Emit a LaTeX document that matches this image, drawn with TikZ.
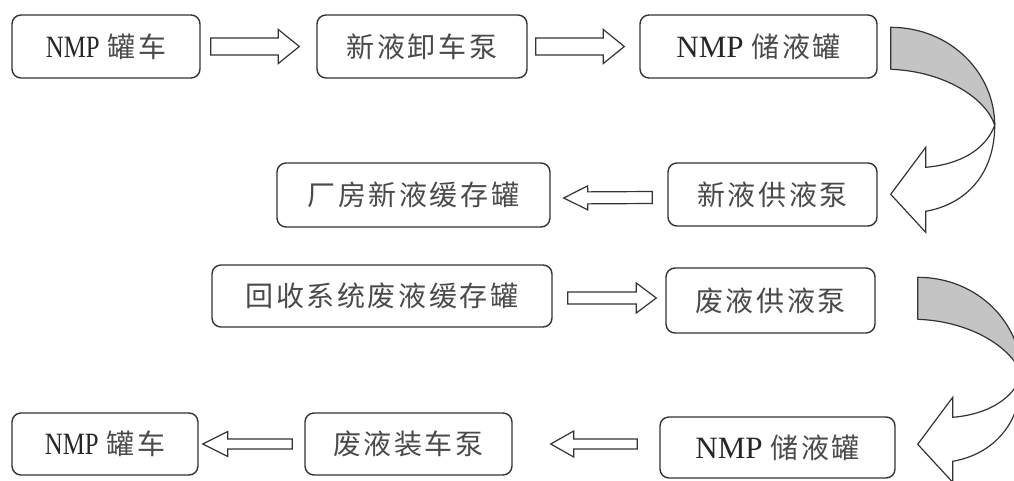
\documentclass[tikz,border=0pt]{standalone}
\usepackage{fontspec}
\setmainfont{Liberation Serif}
\newfontfamily\cjkf[LetterSpace=9]{Noto Sans CJK SC}
\newfontfamily\nmpnarrow[FakeStretch=0.8]{Liberation Serif}
\usetikzlibrary{calc}
\definecolor{linec}{HTML}{333333}
\definecolor{txtc}{HTML}{4A4A4A}
\definecolor{backgray}{HTML}{C4C4C4}
\newcommand\zhtxt[1]{{\cjkf\color{txtc}#1}}
\newcommand\nmpA{{\fontsize{31}{34}\nmpnarrow\color{black!85}NMP}\hspace{8pt}}
\newcommand\nmpC{{\fontsize{31}{34}\selectfont\color{black!85}NMP}\hspace{8pt}}
% #1 tail, #2 tip, #3 half shaft, #4 half head, #5 head length
\newcommand\blockarrow[5]{%
  \coordinate (hb) at ($(#2)!#5pt!(#1)$);
  \draw[barrow] ($(#1)!#3pt!90:(#2)$) -- ($(hb)!#3pt!90:(#2)$) -- ($(hb)!#4pt!90:(#2)$)
    -- (#2) -- ($(hb)!#4pt!-90:(#2)$) -- ($(hb)!#3pt!-90:(#2)$) -- ($(#1)!#3pt!-90:(#2)$) -- cycle;}
\tikzset{
  box/.style={draw=linec, line width=1.4pt, rounded corners=9pt, inner sep=0pt, fill=white,
    font=\fontsize{28}{32}\selectfont},
  barrow/.style={draw=linec, line width=1.2pt, fill=white, line join=miter},
  curlarrow/.pic={
    \draw[line width=1.2pt, draw=linec, fill=backgray, line join=round]
      (0,0) .. controls (60,0) and (104,46) .. (104,98)
      .. controls (96,72) and (55,44) .. (0,42) -- cycle;
    \draw[line width=1.2pt, draw=linec, fill=white, line join=miter]
      (104,98) .. controls (104,147) and (75,177) .. (35,184) -- (35,205) -- (0,167)
      -- (35,120) -- (35,140) .. controls (70,137) and (95,122) .. (104,98) -- cycle;
  }
}
\begin{document}
\begin{tikzpicture}[x=1pt, y=-1pt]
\useasboundingbox (0,0) rectangle (1014,480);
% boxes
\node[box, minimum width=188pt, minimum height=63pt] (A) at (106,46.5) {\nmpA\zhtxt{罐车}};
\node[box, minimum width=210pt, minimum height=63pt] (B) at (422,46.5) {\zhtxt{新液卸车泵}};
\node[box, minimum width=237pt, minimum height=63pt] (C) at (758.5,46.5) {\nmpC\zhtxt{储液罐}};
\node[box, minimum width=273pt, minimum height=64pt] (D) at (413.5,195) {\zhtxt{厂房新液缓存罐}};
\node[box, minimum width=209pt, minimum height=63pt] (E) at (772.5,194.5) {\zhtxt{新液供液泵}};
\node[box, minimum width=340pt, minimum height=62pt] (F) at (382,296) {\zhtxt{回收系统废液缓存罐}};
\node[box, minimum width=209pt, minimum height=65pt] (G) at (770.5,300.5) {\zhtxt{废液供液泵}};
\node[box, minimum width=186pt, minimum height=62pt] (H) at (105,444) {\nmpA\zhtxt{罐车}};
\node[box, minimum width=207pt, minimum height=62pt] (I) at (408.5,444) {\zhtxt{废液装车泵}};
\node[box, minimum width=235pt, minimum height=61pt] (J) at (777.5,447.5) {\nmpC\zhtxt{储液罐}};
% straight block arrows
\coordinate (a1t) at ($(A.east)+(10,0)$);  \coordinate (a1p) at ($(B.west)+(-17,0)$);
\blockarrow{a1t}{a1p}{8.5}{17}{21}
\coordinate (a2t) at ($(B.east)+(8,0)$);   \coordinate (a2p) at ($(C.west)+(-15,0)$);
\blockarrow{a2t}{a2p}{8.5}{17}{21}
\coordinate (a3t) at ($(E.west)+(-15,3)$); \coordinate (a3p) at ($(D.east)+(13,3)$);
\blockarrow{a3t}{a3p}{6}{12}{24}
\coordinate (a4t) at ($(F.east)+(15,2)$);  \coordinate (a4p) at ($(G.west)+(-9,-2.5)$);
\blockarrow{a4t}{a4p}{6}{15}{20}
\coordinate (a5t) at ($(J.west)+(-22,-3.5)$); \coordinate (a5p) at ($(I.east)+(38,0)$);
\blockarrow{a5t}{a5p}{5}{13}{23}
\coordinate (a6t) at ($(I.west)+(-12,0)$); \coordinate (a6p) at ($(H.east)+(4,0)$);
\blockarrow{a6t}{a6p}{5}{12.5}{25}
% curved arrows
\pic at ($(C.north east)+(13,13)$) {curlarrow};
\begin{scope}
  \clip (0,0) rectangle (1014,480);
  \pic at ($(G.north east)+(42,10)$) {curlarrow};
\end{scope}
\end{tikzpicture}
\end{document}
